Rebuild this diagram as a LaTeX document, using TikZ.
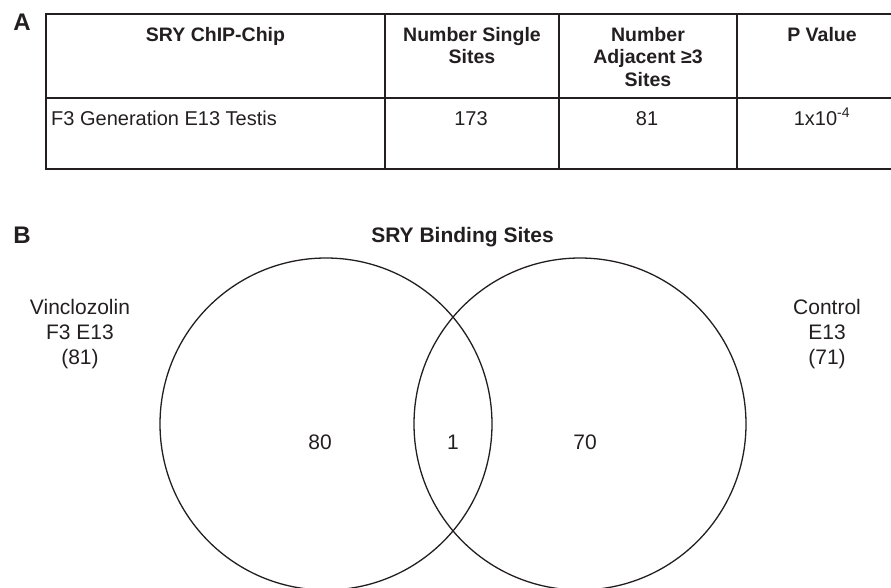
\documentclass[tikz,border=0pt]{standalone}
\usepackage{fontspec}
\setmainfont{Liberation Sans}
\definecolor{ink}{HTML}{231F20}
\begin{document}
\begin{tikzpicture}[x=1pt,y=-1pt,
  rule/.style={draw=ink, line width=1.8pt},
  venn/.style={draw=ink, line width=1.3pt, circle, minimum size=332pt, inner sep=0pt},
  txt/.style={inner sep=0pt, text=ink, font=\fontsize{20}{25}\selectfont},
  big/.style={inner sep=0pt, text=ink, align=center, font=\fontsize{21}{25}\selectfont},
  hdr/.style={inner sep=0pt, text=ink, align=center, font=\bfseries\fontsize{19.5}{22.5}\selectfont},
  title/.style={inner sep=0pt, text=ink, font=\bfseries\fontsize{21}{25}\selectfont},
  panel/.style={inner sep=0pt, text=ink, font=\bfseries\fontsize{24}{28}\selectfont}]
\useasboundingbox (0,0) rectangle (891,587);
\clip (0,0) rectangle (891,587);
% Panel A: table
\draw[rule] (891,14) -- (46,14) -- (46,169) -- (891,169);
\draw[rule] (46,98) -- (891,98);
\draw[rule] (385,14) -- (385,169);
\draw[rule] (559,14) -- (559,169);
\draw[rule] (737,14) -- (737,169);
\node[panel, anchor=base] (pa) at (22,30) {A};
\node[hdr, anchor=base] (h1) at (215.5,41) {SRY ChIP-Chip};
\node[hdr, anchor=base] (h2) at (472,63.5) {Number Single\\Sites};
\node[hdr, anchor=base] (h3) at (648,86) {Number\\Adjacent ≥3\\Sites};
\node[hdr, anchor=base] (h4) at (822,41) {P Value};
\node[txt, anchor=base west] (r1) at (51,125) {F3 Generation E13 Testis};
\node[txt, anchor=base] (r2) at (471,125) {173};
\node[txt, anchor=base] (r3) at (647,125) {81};
\node[txt, anchor=base] (r4) at (822,125) {1x10\textsuperscript{-4}};
% Panel B: Venn diagram
\node[panel, anchor=base] (pb) at (22,243) {B};
\node[title, anchor=base] (ttl) at (462.5,242) {SRY Binding Sites};
\node[venn] (vin) at (326,424) {};
\node[venn] (ctl) at (580,424) {};
\node[big, anchor=base] (lv) at (80,364) {Vinclozolin\\F3 E13\\(81)};
\node[big, anchor=base] (lc) at (827,364) {Control\\E13\\(71)};
\node[big, anchor=base] (n80) at (320,449) {80};
\node[big, anchor=base] (n1) at (453,449) {1};
\node[big, anchor=base] (n70) at (585,449) {70};
\end{tikzpicture}
\end{document}
